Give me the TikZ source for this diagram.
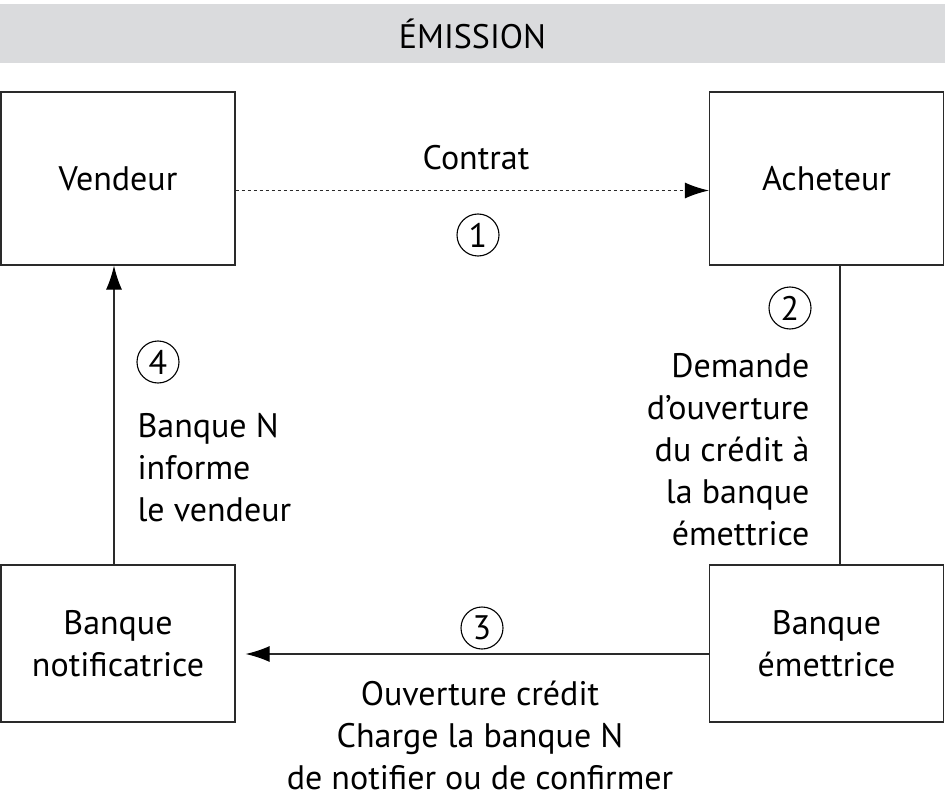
\documentclass[tikz,border=0pt]{standalone}
\usepackage{fontspec}
\setmainfont{PT Sans}
\usetikzlibrary{arrows.meta}
\definecolor{bannergray}{HTML}{DADBDD}
\definecolor{boxline}{HTML}{2A2A2A}
\begin{document}
\begin{tikzpicture}[x=1pt,y=-1pt,
  every node/.style={font=\fontsize{34}{42}\selectfont, text=black},
  box/.style={draw=boxline, line width=1.3pt, minimum width=234pt, minimum height=173pt, inner sep=0pt, align=center},
  lowbox/.style={box, minimum height=157pt},
  num/.style={draw=black, line width=1.1pt, circle, minimum size=42pt, inner sep=0pt},
  conn/.style={line width=1.2pt, draw=boxline},
  tip/.style={-{Latex[length=24pt,width=16pt,color=black]}}
]
\useasboundingbox (0,0) rectangle (945,805);
% banner
\node[fill=bannergray, minimum width=945pt, minimum height=59pt, inner sep=0pt] (banner) at (472.5,33.5) {ÉMISSION};
% boxes
\node[box] (vend) at (118,178.5) {Vendeur};
\node[box] (ach) at (826.5,178.5) {Acheteur};
\node[lowbox] (notif) at (118,643.5) {Banque\\notificatrice};
\node[lowbox] (emet) at (826.5,643.5) {Banque\\émettrice};
% labels
\node (lcontrat) at (476,158) {Contrat};
\node[num] (n1) at (478,235) {1};
\node[num] (n2) at (790,308) {2};
\node[num] (n3) at (482,628) {3};
\node[num] (n4) at (158,362) {4};
\node[align=right, anchor=east] (l2) at (813,450) {Demande\\d’ouverture\\du crédit à\\la banque\\émettrice};
\node[align=left, anchor=west] (l4) at (134,468) {Banque N\\informe\\le vendeur};
\node[align=center] (l3) at (480,735) {Ouverture crédit\\Charge la banque N\\de notifier ou de confirmer};
% connectors
\coordinate (c1a) at ([yshift=-12pt]vend.east);
\coordinate (c1b) at (c1a -| ach.west);
\draw[conn, dash pattern=on 3.5pt off 2.5pt, tip] (c1a) -- (c1b);
\coordinate (c2a) at ([xshift=13.5pt]ach.south);
\coordinate (c2b) at (c2a |- emet.north);
\draw[conn] (c2a) -- (c2b);
\coordinate (c3a) at ([yshift=-10.5pt]emet.west);
\coordinate (c3b) at (c3a -| notif.east);
\draw[conn, tip, shorten >=10pt] (c3a) -- (c3b);
\coordinate (c4a) at ([xshift=-4pt]notif.north);
\coordinate (c4b) at (c4a |- vend.south);
\draw[conn, tip] (c4a) -- (c4b);
\end{tikzpicture}
\end{document}
